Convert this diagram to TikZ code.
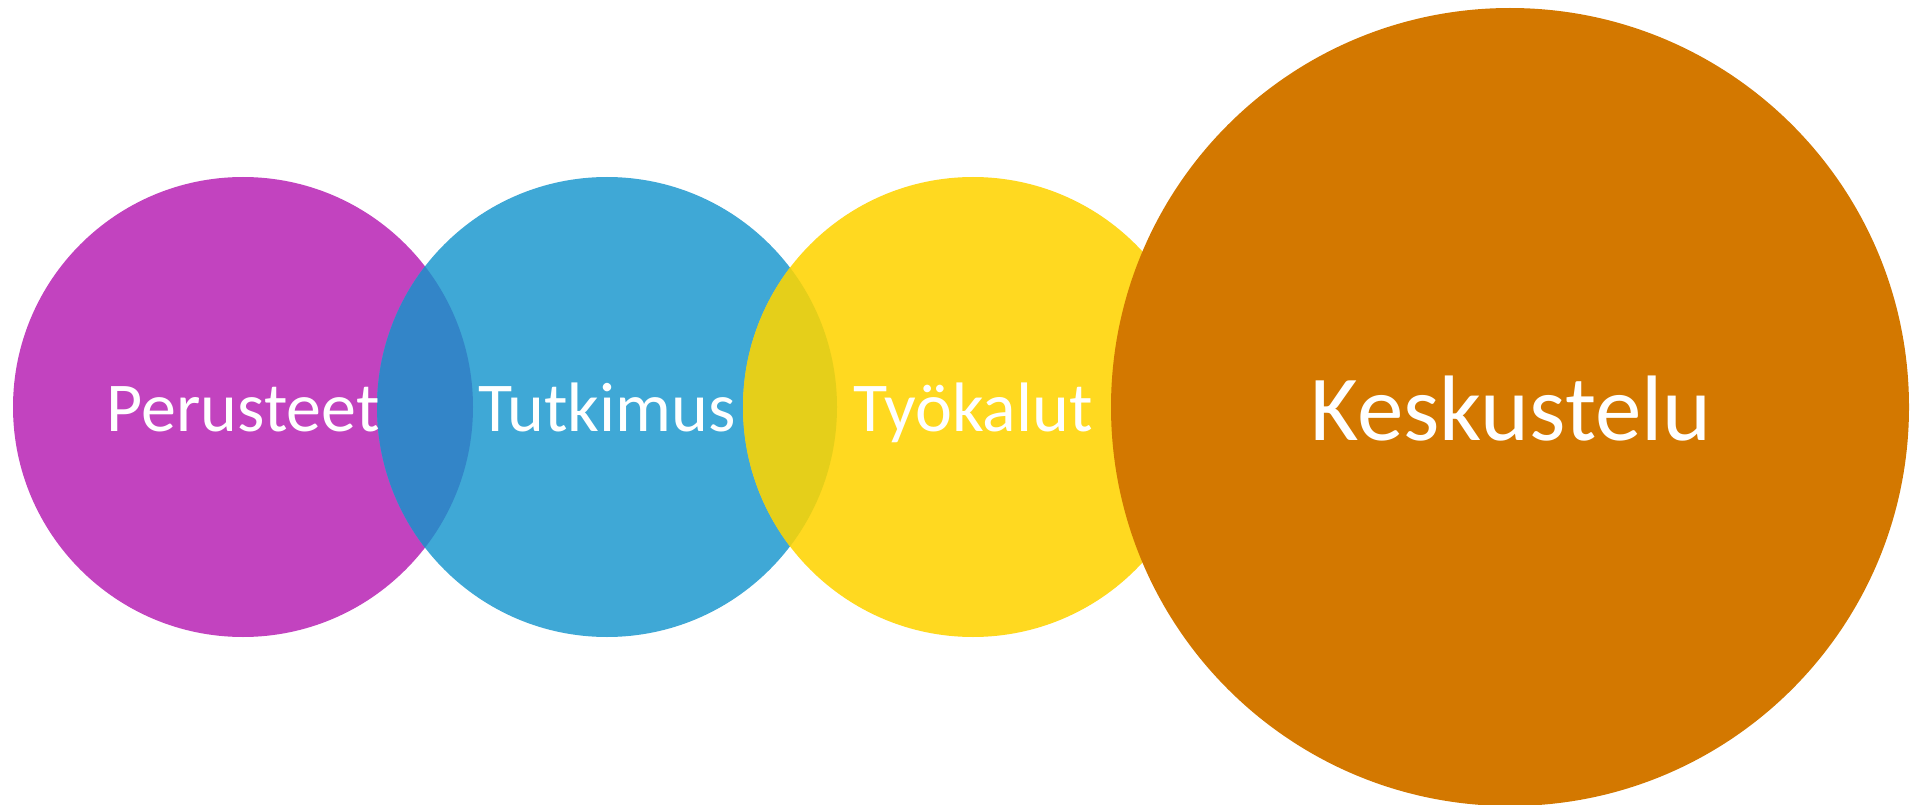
\documentclass[tikz,border=0pt]{standalone}
\usepackage{fontspec}
\setmainfont{Carlito}
\definecolor{cpurple}{RGB}{194,67,191}
\definecolor{cblue}{RGB}{63,168,214}
\definecolor{clensa}{RGB}{51,133,200}
\definecolor{cyellow}{RGB}{255,217,32}
\definecolor{clensb}{RGB}{229,207,26}
\definecolor{corange}{RGB}{211,120,0}
\begin{document}
\begin{tikzpicture}[x=1pt,y=-1pt,
  disc/.style={circle,draw=none,inner sep=0pt,minimum size=460pt},
  bigdisc/.style={circle,draw=none,inner sep=0pt,minimum size=798pt},
  lbl/.style={text=white,inner sep=0pt,anchor=base,font=\fontsize{70}{84}\selectfont},
  biglbl/.style={text=white,inner sep=0pt,anchor=base,font=\fontsize{93}{110}\selectfont}]
\useasboundingbox (0,0) rectangle (1925,805);
\node[disc,fill=cpurple] (p) at (243,407) {};
\node[disc,fill=cblue] (b) at (607,407) {};
\node[disc,fill=cyellow] (y) at (973,407) {};
\begin{scope}
  \clip (p.center) circle[radius=230pt];
  \fill[clensa] (b.center) circle[radius=230pt];
\end{scope}
\begin{scope}
  \clip (b.center) circle[radius=230pt];
  \fill[clensb] (y.center) circle[radius=230pt];
\end{scope}
\node[bigdisc,fill=corange] (o) at (1510,407) {};
\node[lbl] (pl) at (243,431) {Perusteet};
\node[lbl] (bl) at (607,431) {Tutkimus};
\node[lbl] (yl) at (973,431) {Työkalut};
\node[biglbl] (ol) at (1511,440) {Keskustelu};
\end{tikzpicture}
\end{document}
